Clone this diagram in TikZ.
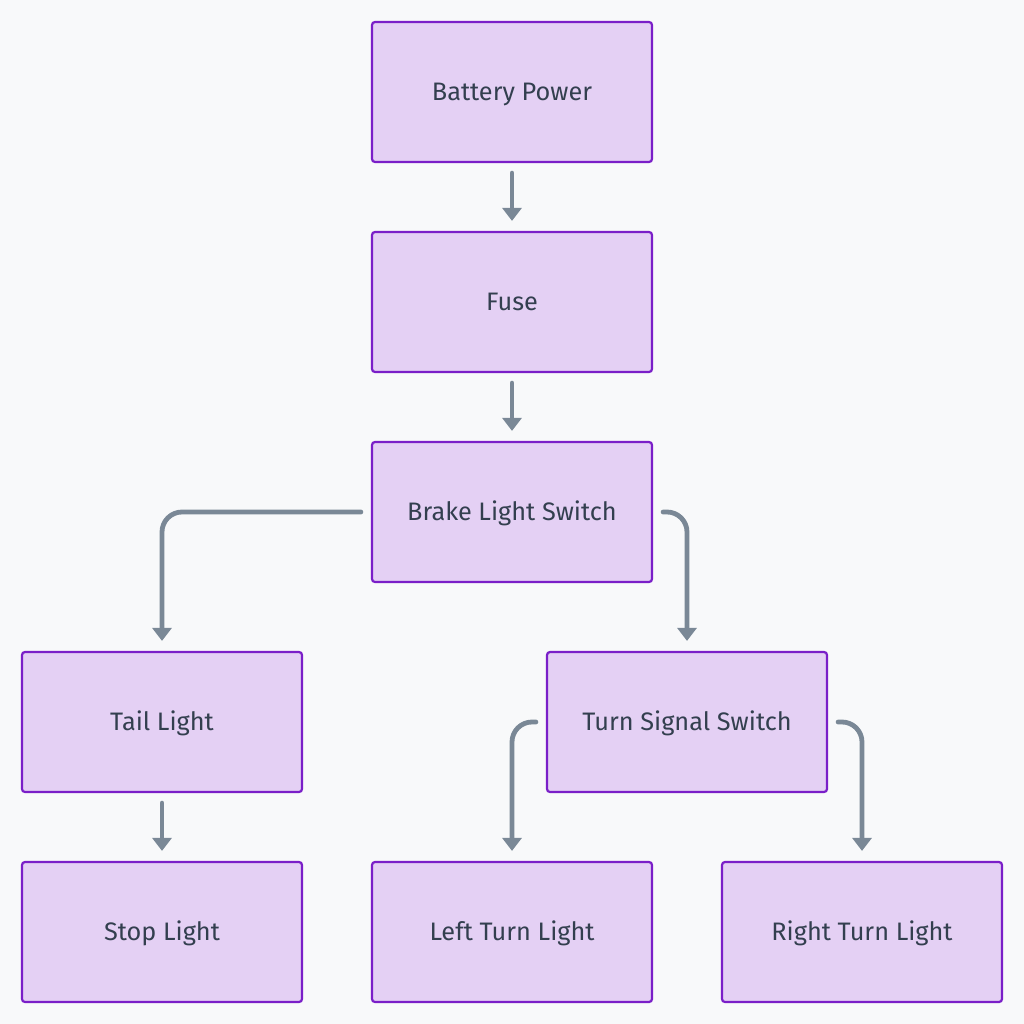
\documentclass[tikz,border=0pt]{standalone}
\usepackage{fontspec}
\setmainfont{Fira Sans}
\usetikzlibrary{arrows.meta,positioning}
\definecolor{BoxFill}{HTML}{E4D0F4}
\definecolor{BoxLine}{HTML}{7A1FC8}
\definecolor{Wire}{HTML}{7A8896}
\definecolor{Ink}{HTML}{333F4F}
\definecolor{Paper}{HTML}{F8F9FA}

\begin{document}
\begin{tikzpicture}[x=1pt, y=-1pt,
      every node/.append style={font=\fontsize{25.3}{30}\selectfont, text=Ink},
      part/.style={draw=BoxLine, fill=BoxFill, line width=2.2pt, rounded corners=3pt,
                   minimum width=280pt, minimum height=140pt, inner sep=0pt,
                   text height=17.5pt, text depth=0pt},
      wire/.style={-{Triangle[width=19pt,length=13pt]}, draw=Wire, line width=4.8pt,
                   rounded corners=20pt, line cap=round}]
    \fill[Paper] (0,0) rectangle (1024,1024);
    \useasboundingbox (0,0) rectangle (1024,1024);
    % boxes
    \node[part] (battery) at (512,92) {Battery Power};
    \node[part] (fuse) at (512,302) {Fuse};
    \node[part] (brake) at (512,512) {Brake Light Switch};
    \node[part] (tail) at (162,722) {Tail Light};
    \node[part] (turn) at (687,722) {Turn Signal Switch};
    \node[part] (stop) at (162,932) {Stop Light};
    \node[part] (left) at (512,932) {Left Turn Light};
    \node[part] (right) at (862,932) {Right Turn Light};
    % wires
    \draw[wire] ([yshift=-10pt]battery.south) -- ([yshift=10pt]fuse.north);
    \draw[wire] ([yshift=-10pt]fuse.south) -- ([yshift=10pt]brake.north);
    \draw[wire] ([xshift=-10pt]brake.west) -| ([yshift=10pt]tail.north);
    \draw[wire] ([xshift=10pt]brake.east) -| ([yshift=10pt]turn.north);
    \draw[wire] ([yshift=-10pt]tail.south) -- ([yshift=10pt]stop.north);
    \draw[wire] ([xshift=-10pt]turn.west) -| ([yshift=10pt]left.north);
    \draw[wire] ([xshift=10pt]turn.east) -| ([yshift=10pt]right.north);
\end{tikzpicture}
\end{document}
